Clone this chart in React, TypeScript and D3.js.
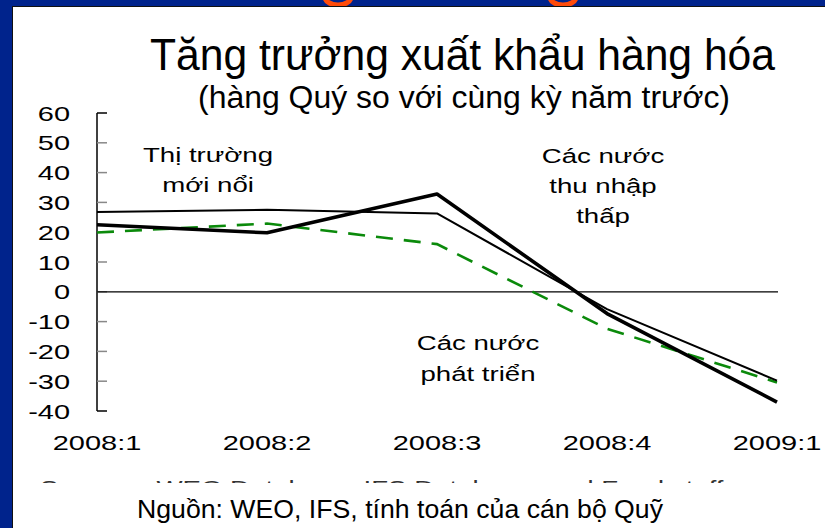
import React from 'react';
import * as d3 from 'd3';

// quarters on the x axis
const quarters = ['2008:1', '2008:2', '2008:3', '2008:4', '2009:1'];
// y/y export growth, %
const emerging = [22.5, 19.8, 32.8, -7.3, -37.0];
const lowIncome = [26.8, 27.5, 26.3, -5.8, -29.8];
const advanced = [19.9, 22.9, 16.0, -12.4, -30.4];
const yTicks = [60, 50, 40, 30, 20, 10, 0, -10, -20, -30, -40];

const FONT = '"Liberation Sans", Arial, sans-serif';
const SX = 1.38; // the slide is stretched sideways

function Wide({ x, y, size, anchor = 'middle', fill = '#000', children }: any) {
  return (
    <text
      transform={`translate(${x},${y}) scale(${SX},1)`}
      textAnchor={anchor}
      fontSize={size}
      fontFamily={FONT}
      fill={fill}
    >
      {children}
    </text>
  );
}

export default function App() {
  const width = 825;
  const height = 528;

  const x = d3.scalePoint<string>().domain(quarters).range([97, 777]);
  const y = d3.scaleLinear().domain([-40, 60]).range([411, 113]);

  const line = d3
    .line<number>()
    .x((_, i) => x(quarters[i]) as number)
    .y(d => y(d));

  return (
    <svg
      width={width}
      height={height}
      style={{ position: 'absolute', left: 0, top: 0, background: '#fff' }}
    >
      <defs>
        <clipPath id="band">
          <rect x={0} y={0} width={width} height={6} />
        </clipPath>
        <clipPath id="srcClip">
          <rect x={0} y={480} width={width} height={3} />
        </clipPath>
      </defs>

      {/* slide frame */}
      <rect x={0} y={0} width={width} height={6} fill="#00238c" />
      <rect x={0} y={0} width={12} height={height} fill="#00238c" />
      <line x1={12} x2={width} y1={6.5} y2={6.5} stroke="#111" strokeWidth={1} />
      <line x1={12.5} x2={12.5} y1={6} y2={height} stroke="#111" strokeWidth={1} />
      <g clipPath="url(#band)">
        <ellipse cx={338} cy={-3} rx={13} ry={8} fill="none" stroke="#ff4b0a" strokeWidth={5} />
        <ellipse cx={563} cy={-3} rx={13} ry={8} fill="none" stroke="#ff4b0a" strokeWidth={5} />
      </g>

      {/* titles */}
      <text
        x={150}
        y={70}
        fontSize={45}
        fontFamily={FONT}
        textLength={625}
        lengthAdjust="spacingAndGlyphs"
      >
        Tăng trưởng xuất khẩu hàng hóa
      </text>
      <text
        x={198}
        y={108}
        fontSize={31}
        fontFamily={FONT}
        textLength={532}
        lengthAdjust="spacingAndGlyphs"
      >
        (hàng Quý so với cùng kỳ năm trước)
      </text>

      {/* Y axis */}
      <line x1={97} x2={97} y1={y(60)} y2={y(-40)} stroke="#000" strokeWidth={1.5} />
      {yTicks.map(t => (
        <g key={t}>
          <line
            x1={97}
            x2={107}
            y1={y(t)}
            y2={y(t)}
            stroke={t === 60 || t === -40 ? '#000' : '#888'}
            strokeWidth={1.5}
          />
          <Wide x={70} y={y(t) + 7.5} size={21} anchor="end">
            {t}
          </Wide>
        </g>
      ))}

      {/* zero line */}
      <line x1={97} x2={778} y1={y(0)} y2={y(0)} stroke="#000" strokeWidth={1.3} />

      {/* X labels */}
      {quarters.map(q => (
        <Wide key={q} x={x(q)} y={450} size={21}>
          {q}
        </Wide>
      ))}

      {/* series */}
      <path d={line(advanced) || ''} fill="none" stroke="#0b8a0b" strokeWidth={2.6} strokeDasharray="17 11" />
      <path d={line(lowIncome) || ''} fill="none" stroke="#000" strokeWidth={2} strokeLinejoin="round" />
      <path d={line(emerging) || ''} fill="none" stroke="#000" strokeWidth={3.6} strokeLinejoin="round" />

      {/* annotations */}
      <Wide x={208} y={162} size={20}>Thị trường</Wide>
      <Wide x={208} y={192} size={20}>mới nổi</Wide>
      <Wide x={603} y={163} size={20}>Các nước</Wide>
      <Wide x={603} y={193} size={20}>thu nhập</Wide>
      <Wide x={603} y={223} size={20}>thấp</Wide>
      <Wide x={478} y={350} size={20}>Các nước</Wide>
      <Wide x={478} y={381} size={20}>phát triển</Wide>

      {/* source line hidden behind the slide, only its top shows */}
      <g clipPath="url(#srcClip)">
        <Wide x={40} y={495} size={20} anchor="start" fill="#333">
          Sources: WEO Database, IFS Database, and Fund staff
        </Wide>
      </g>

      {/* footer */}
      <text
        x={137}
        y={518}
        fontSize={25}
        fontFamily={FONT}
        textLength={526}
        lengthAdjust="spacingAndGlyphs"
      >
        Nguồn: WEO, IFS, tính toán của cán bộ Quỹ
      </text>
    </svg>
  );
}
